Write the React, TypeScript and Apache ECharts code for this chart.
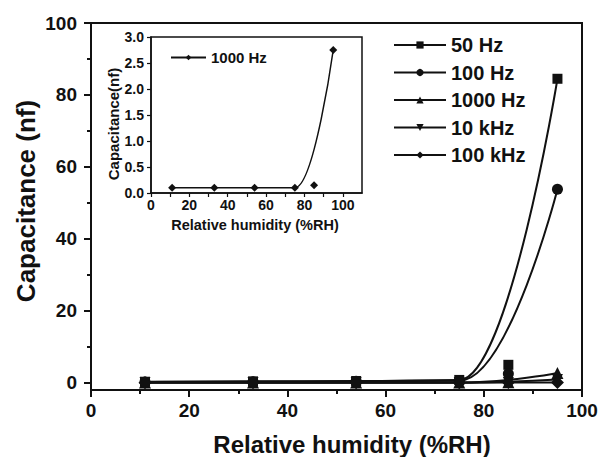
import React, { useEffect, useRef } from 'react';
import * as echarts from 'echarts';

// Relative humidity (%RH) measurement points
const humidity = [11, 33, 54, 75, 85, 95];
// Capacitance (nf) per frequency
const cap50Hz = [0.3, 0.4, 0.5, 0.8, 5, 84.5];
const cap100Hz = [0.2, 0.3, 0.4, 0.6, 2.5, 53.8];
const cap1000Hz = [0.1, 0.1, 0.1, 0.1, 0.15, 2.75];
const cap10kHz = [0.05, 0.05, 0.05, 0.06, 0.1, 0.9];
const cap100kHz = [0.02, 0.02, 0.02, 0.03, 0.05, 0.1];
// index of the 85 %RH point, which lies off the fitted spline
const offCurveIndex = 4;

const seriesNames = ['50 Hz', '100 Hz', '1000 Hz', '10 kHz', '100 kHz'];
const seriesValues = [cap50Hz, cap100Hz, cap1000Hz, cap10kHz, cap100kHz];
const seriesSymbols = ['rect', 'circle', 'triangle', 'path://M0,0L10,0L5,10Z', 'diamond'];
const seriesSymbolSizes = [10, 11, 12, 11, 13];

const mainXTicks = [0, 20, 40, 60, 80, 100];
const mainYTicks = [0, 20, 40, 60, 80, 100];
const mainYMinorTicks = [10, 30, 50, 70, 90];
const insetXLabels = [0, 20, 40, 60, 80, 100];
const insetXTicks = [0, 10, 20, 30, 40, 50, 60, 70, 80, 90, 100];
const insetName = 'inset1000';

const FONT = '"Liberation Sans", Arial, Helvetica, sans-serif';
const INK = '#111';

function curvePairs(vals: number[]) {
  return humidity
    .map((h, i) => [h, vals[i]])
    .filter((_, i) => i !== offCurveIndex);
}
function offPairs(vals: number[]) {
  return [[humidity[offCurveIndex], vals[offCurveIndex]]];
}

export default function App() {
  const ref = useRef<HTMLDivElement>(null);
  useEffect(() => {
    if (!ref.current) return;
    const chart = echarts.init(ref.current, undefined, { renderer: 'svg' });
    const series: any[] = [];
    seriesNames.forEach((name, k) => {
      series.push({
        type: 'line',
        name,
        xAxisIndex: 0,
        yAxisIndex: 0,
        data: curvePairs(seriesValues[k]),
        smooth: 0.5,
        smoothMonotone: 'x',
        symbol: seriesSymbols[k],
        symbolSize: seriesSymbolSizes[k],
        showSymbol: true,
        lineStyle: { color: INK, width: 2 },
        itemStyle: { color: INK, opacity: 1 },
        z: 3,
      });
      series.push({
        type: 'scatter',
        name: name + ' pt',
        xAxisIndex: 0,
        yAxisIndex: 0,
        data: offPairs(seriesValues[k]),
        symbol: seriesSymbols[k],
        symbolSize: seriesSymbolSizes[k],
        itemStyle: { color: INK, opacity: 1 },
        z: 3,
      });
    });
    // inset: 1000 Hz
    series.push({
      type: 'line',
      name: insetName,
      xAxisIndex: 1,
      yAxisIndex: 2,
      data: curvePairs(cap1000Hz),
      smooth: 0.5,
      smoothMonotone: 'x',
      symbol: 'diamond',
      symbolSize: 8,
      lineStyle: { color: INK, width: 1.5 },
      itemStyle: { color: INK, opacity: 1 },
      z: 10,
    });
    series.push({
      type: 'scatter',
      name: insetName + ' pt',
      xAxisIndex: 1,
      yAxisIndex: 2,
      data: offPairs(cap1000Hz),
      symbol: 'diamond',
      symbolSize: 8,
      itemStyle: { color: INK, opacity: 1 },
      z: 10,
    });

    const option: any = {
      animation: false,
      backgroundColor: '#fff',
      grid: [
        { left: 91, top: 23, right: 20, bottom: 67, show: true, borderColor: INK, borderWidth: 2, backgroundColor: 'transparent' },
        { left: 151, top: 37, width: 211, height: 156, show: true, borderColor: INK, borderWidth: 1.5, backgroundColor: '#fff', z: 5 },
      ],
      xAxis: [
        {
          type: 'value', gridIndex: 0, min: 0, max: 100, interval: 20,
          axisLine: { onZero: false, lineStyle: { color: INK, width: 2 } },
          axisTick: { length: 7, lineStyle: { color: INK, width: 2 } },
          minorTick: { show: true, splitNumber: 2, length: 4, lineStyle: { color: INK, width: 2 } },
          splitLine: { show: false },
          axisLabel: { customValues: mainXTicks, color: INK, fontFamily: FONT, fontWeight: 'bold', fontSize: 19, margin: 11 },
        },
        {
          type: 'value', gridIndex: 1, min: 0, max: 110, interval: 10, z: 6,
          axisLine: { onZero: false, lineStyle: { color: INK, width: 1.5 } },
          axisTick: { customValues: insetXTicks, length: 4, lineStyle: { color: INK, width: 1.2 } },
          splitLine: { show: false },
          axisLabel: { customValues: insetXLabels, color: INK, fontFamily: FONT, fontWeight: 'bold', fontSize: 14, margin: 5 },
        },
      ],
      yAxis: [
        {
          type: 'value', gridIndex: 0, min: -2, max: 100, position: 'left',
          axisLine: { onZero: false, lineStyle: { color: INK, width: 2 } },
          axisTick: { customValues: mainYTicks, length: 7, lineStyle: { color: INK, width: 2 } },
          splitLine: { show: false },
          axisLabel: { customValues: mainYTicks, color: INK, fontFamily: FONT, fontWeight: 'bold', fontSize: 19, margin: 14 },
        },
        {
          type: 'value', gridIndex: 0, min: -2, max: 100, position: 'left',
          axisLine: { show: false, onZero: false },
          axisTick: { customValues: mainYMinorTicks, length: 4, lineStyle: { color: INK, width: 2 } },
          splitLine: { show: false },
          axisLabel: { show: false },
        },
        {
          type: 'value', gridIndex: 1, min: 0, max: 3, interval: 0.5, z: 6,
          axisLine: { onZero: false, lineStyle: { color: INK, width: 1.5 } },
          axisTick: { length: 4, lineStyle: { color: INK, width: 1.2 } },
          splitLine: { show: false },
          axisLabel: { color: INK, fontFamily: FONT, fontWeight: 'bold', fontSize: 14, margin: 7, formatter: (v: number) => v.toFixed(1) },
        },
      ],
      legend: [
        {
          data: seriesNames,
          orient: 'vertical',
          left: 393,
          top: 35,
          padding: 0,
          itemWidth: 52,
          itemHeight: 9,
          itemGap: 7.5,
          textStyle: { color: INK, fontFamily: FONT, fontWeight: 'bold', fontSize: 20, lineHeight: 20 },
          selectedMode: false,
        },
        {
          data: [insetName],
          formatter: () => '1000 Hz',
          orient: 'vertical',
          left: 170,
          top: 50,
          padding: 0,
          itemWidth: 35,
          itemHeight: 7,
          z: 12,
          textStyle: { color: INK, fontFamily: FONT, fontWeight: 'bold', fontSize: 15, lineHeight: 15 },
          selectedMode: false,
        },
      ],
      graphic: [
        { type: 'text', x: 352, y: 444, z: 20, style: { text: 'Relative humidity (%RH)', fill: INK, font: `bold 24px ${FONT}`, align: 'center', verticalAlign: 'middle' } },
        { type: 'text', x: 26, y: 201, rotation: Math.PI / 2, z: 20, style: { text: 'Capacitance (nf)', fill: INK, font: `bold 26px ${FONT}`, align: 'center', verticalAlign: 'middle' } },
        { type: 'text', x: 255, y: 225, z: 20, style: { text: 'Relative humidity (%RH)', fill: INK, font: `bold 14.5px ${FONT}`, align: 'center', verticalAlign: 'middle' } },
        { type: 'text', x: 113, y: 124, rotation: Math.PI / 2, z: 20, style: { text: 'Capacitance(nf)', fill: INK, font: `bold 15px ${FONT}`, align: 'center', verticalAlign: 'middle' } },
      ],
      series,
    };
    chart.setOption(option);
    return () => chart.dispose();
  }, []);
  return <div ref={ref} style={{ position: 'fixed', left: 0, top: 0, width: 602, height: 457, background: '#fff' }} />;
}
